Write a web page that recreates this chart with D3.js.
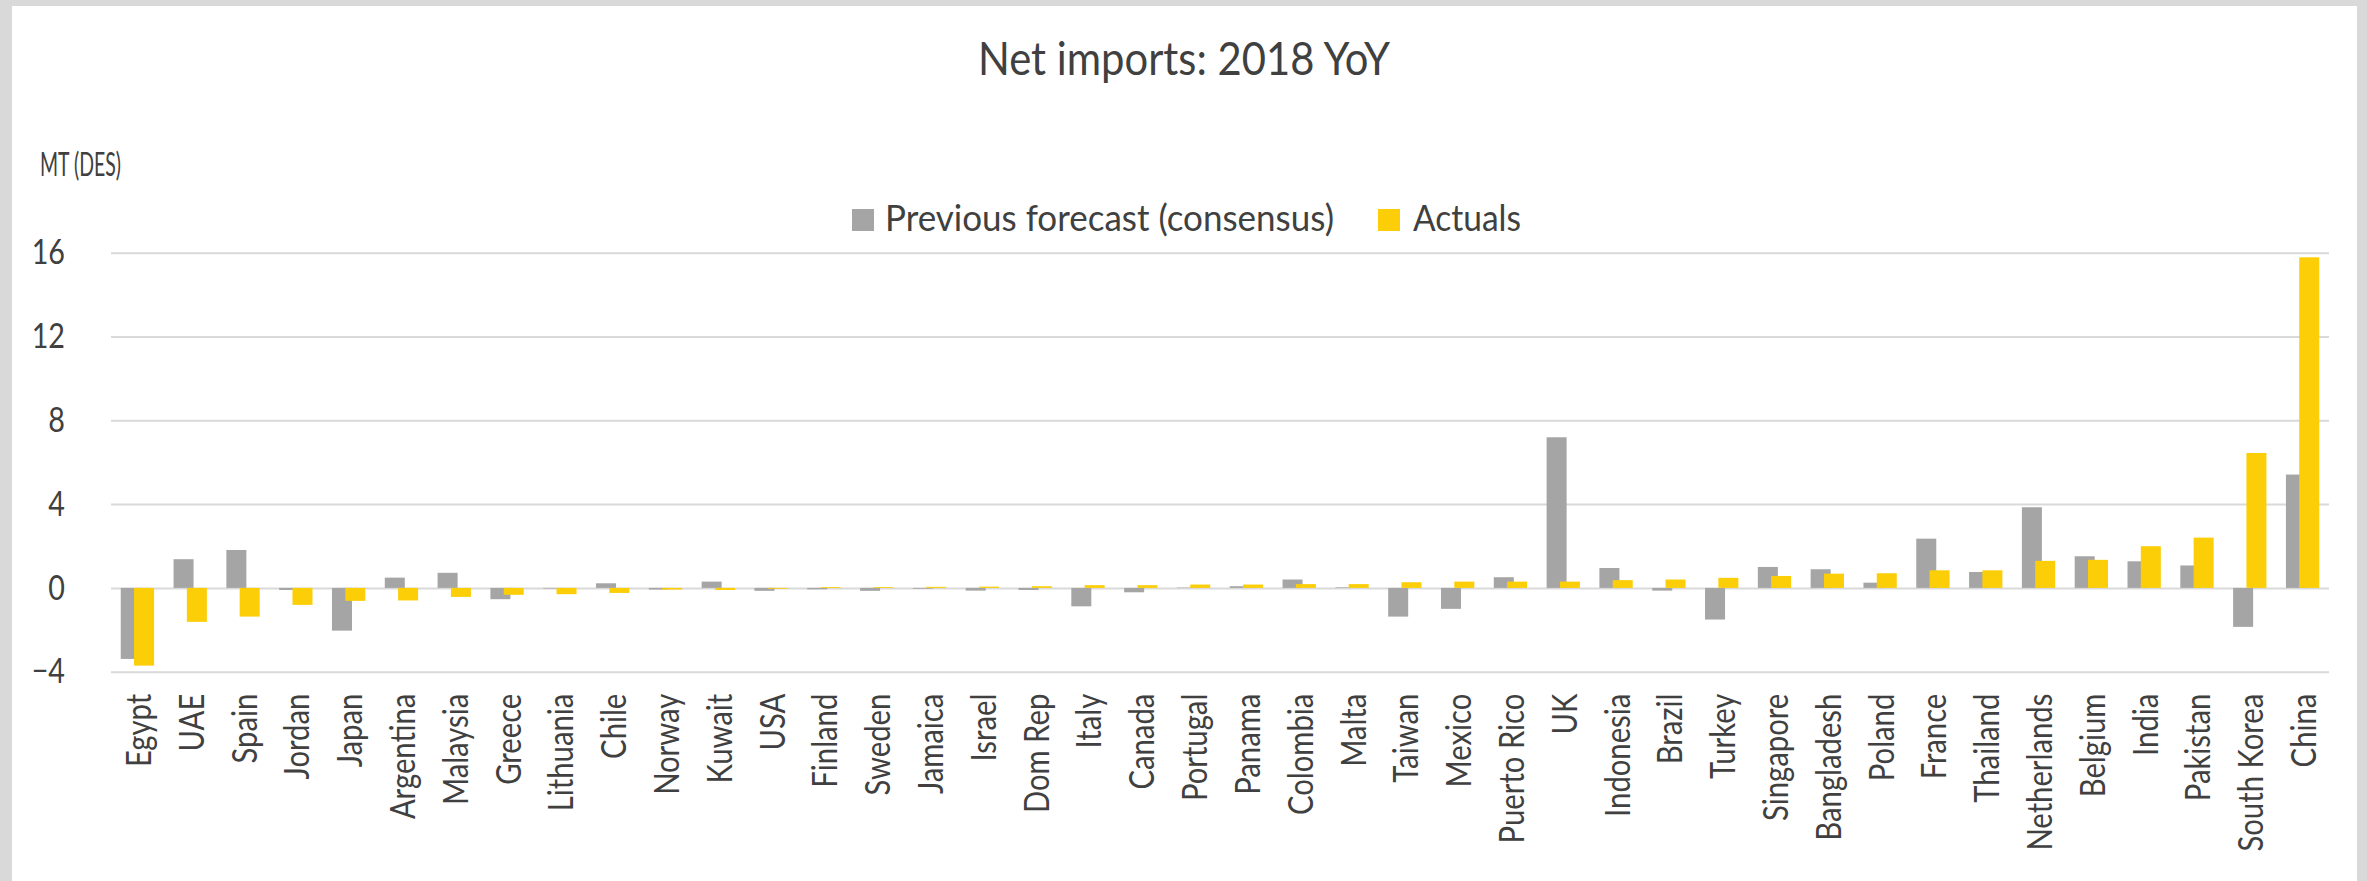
<!DOCTYPE html>
<html>
<head>
<meta charset="utf-8">
<script src="https://cdn.jsdelivr.net/npm/d3@7/dist/d3.min.js"></script>
<style>
  html, body { margin: 0; padding: 0; background: #d9d9d9; }
  svg { display: block; }
  text { font-family: Lato, "Open Sans", sans-serif; fill: #404040; }
</style>
</head>
<body>
<svg id="chart" width="2367" height="881"></svg>
<script>
// Net imports, 2018 year-on-year change (MT, DES)
const categories = ["Egypt", "UAE", "Spain", "Jordan", "Japan", "Argentina", "Malaysia", "Greece",
  "Lithuania", "Chile", "Norway", "Kuwait", "USA", "Finland", "Sweden", "Jamaica", "Israel",
  "Dom Rep", "Italy", "Canada", "Portugal", "Panama", "Colombia", "Malta", "Taiwan", "Mexico",
  "Puerto Rico", "UK", "Indonesia", "Brazil", "Turkey", "Singapore", "Bangladesh", "Poland",
  "France", "Thailand", "Netherlands", "Belgium", "India", "Pakistan", "South Korea", "China"];

const previousForecast = [-3.39, 1.37, 1.81, -0.10, -2.04, 0.49, 0.72, -0.54,
  -0.03, 0.22, -0.08, 0.30, -0.14, -0.07, -0.14, -0.04, -0.13,
  -0.10, -0.88, -0.21, 0.02, 0.08, 0.40, 0.03, -1.37, -1.00,
  0.51, 7.19, 0.95, -0.13, -1.51, 1.00, 0.89, 0.25,
  2.35, 0.76, 3.85, 1.51, 1.27, 1.07, -1.86, 5.41];

const actuals = [-3.71, -1.62, -1.37, -0.81, -0.62, -0.60, -0.43, -0.33,
  -0.30, -0.24, -0.08, -0.10, -0.04, 0.04, 0.04, 0.05, 0.06,
  0.08, 0.13, 0.13, 0.16, 0.16, 0.18, 0.18, 0.27, 0.30,
  0.30, 0.30, 0.37, 0.40, 0.48, 0.57, 0.68, 0.70,
  0.84, 0.84, 1.29, 1.34, 1.99, 2.40, 6.44, 15.78];

const yTicks = [-4, 0, 4, 8, 12, 16];
const seriesNames = ["Previous forecast (consensus)", "Actuals"];
const seriesColors = ["#a5a5a5", "#fbce07"];

const W = 2367, H = 881;
const plot = { left: 111, right: 2329, top: 252.7, bottom: 671.7 };

const svg = d3.select("#chart");

// Frame: grey surround with white panel
svg.append("rect").attr("x", 0).attr("y", 0).attr("width", W).attr("height", H).attr("fill", "#d9d9d9");
svg.append("rect").attr("x", 12).attr("y", 6).attr("width", 2345).attr("height", H - 6).attr("fill", "#ffffff");

const x = d3.scaleBand().domain(categories).range([plot.left, plot.right]).paddingInner(0).paddingOuter(0);
const y = d3.scaleLinear().domain([-4, 16]).range([plot.bottom, plot.top]);

// Squash a text element along its run to a fraction of its natural length
function squash(sel, factor) {
  sel.each(function () {
    const len = this.getComputedTextLength();
    d3.select(this).attr("textLength", len * factor).attr("lengthAdjust", "spacingAndGlyphs");
  });
}

// Horizontal gridlines and value labels
const yAxis = d3.axisLeft(y).tickValues(yTicks).tickSize(-(plot.right - plot.left)).tickPadding(46).tickFormat(d3.format("d"));
const gy = svg.append("g").attr("transform", `translate(${plot.left},0)`).call(yAxis);
gy.select(".domain").remove();
gy.selectAll(".tick line").attr("stroke", "#d9d9d9").attr("stroke-width", 2);
gy.selectAll(".tick text").attr("font-size", 35).style("font-family", "Lato, sans-serif").attr("fill", "#404040");
squash(gy.selectAll(".tick text"), 0.82);

// Bars: two overlapping series per category
const bw = x.bandwidth();
const barW = bw * 0.379;
const shift = bw * 0.252;
const pairW = barW + shift;
const series = [previousForecast, actuals];

series.forEach((vals, si) => {
  svg.append("g").selectAll("rect")
    .data(categories.map((c, i) => ({ c, v: vals[i] })))
    .join("rect")
    .attr("x", d => x(d.c) + (bw - pairW) / 2 + si * shift)
    .attr("width", barW)
    .attr("y", d => y(Math.max(0, d.v)))
    .attr("height", d => Math.abs(y(d.v) - y(0)))
    .attr("fill", seriesColors[si]);
});

// Category labels, rotated
const xAxis = d3.axisBottom(x).tickSize(0).tickPadding(0);
const gx = svg.append("g").attr("transform", `translate(0,${plot.bottom})`).call(xAxis);
gx.select(".domain").remove();
gx.selectAll(".tick text")
  .attr("font-size", 34)
  .style("font-family", "Lato, sans-serif")
  .attr("fill", "#404040")
  .attr("text-anchor", "end")
  .attr("dy", null)
  .attr("y", 0)
  .attr("x", -22)
  .attr("dominant-baseline", "central")
  .attr("transform", "rotate(-90)");
squash(gx.selectAll(".tick text"), 0.86);

// Title
svg.append("text").attr("x", 1184).attr("y", 75).attr("text-anchor", "middle")
  .attr("font-size", 46).text("Net imports: 2018 YoY")
  .attr("textLength", 412).attr("lengthAdjust", "spacingAndGlyphs");

// Unit label
svg.append("text").attr("x", 40).attr("y", 176).attr("font-size", 33).text("MT (DES)")
  .attr("textLength", 81).attr("lengthAdjust", "spacingAndGlyphs");

// Legend
const legendItems = [
  { name: seriesNames[0], color: seriesColors[0], sx: 852, tx: 885, len: 449 },
  { name: seriesNames[1], color: seriesColors[1], sx: 1378, tx: 1413, len: 108 }
];
const lg = svg.append("g");
legendItems.forEach(it => {
  lg.append("rect").attr("x", it.sx).attr("y", 209).attr("width", 22).attr("height", 22).attr("fill", it.color);
  lg.append("text").attr("x", it.tx).attr("y", 231).attr("font-size", 36).text(it.name)
    .attr("textLength", it.len).attr("lengthAdjust", "spacingAndGlyphs");
});
</script>
</body>
</html>
